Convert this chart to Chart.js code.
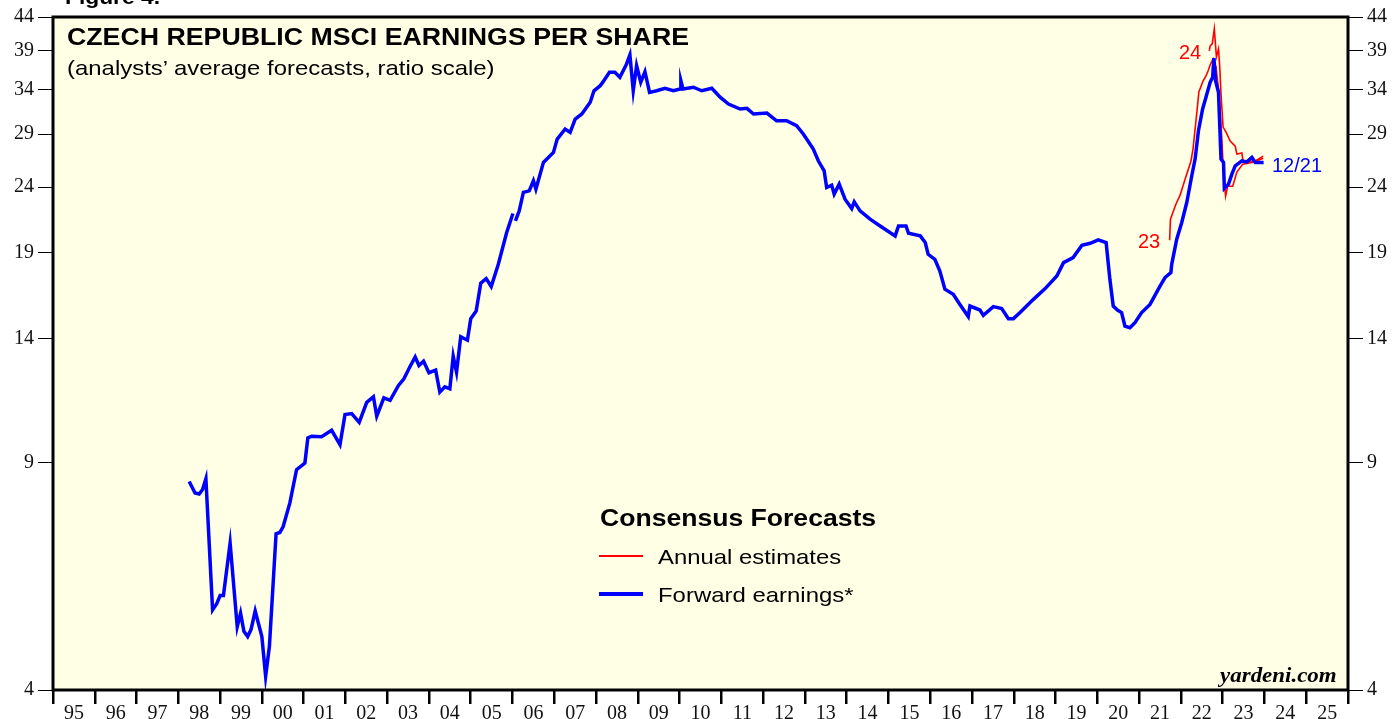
<!DOCTYPE html>
<html>
<head>
<meta charset="utf-8">
<script src="https://cdn.jsdelivr.net/npm/chart.js@4.4.1/dist/chart.umd.min.js"></script>
<style>
  html, body { margin: 0; padding: 0; background: #fff; overflow: hidden; }
  #wrap { position: relative; width: 1393px; height: 719px; }
  canvas { position: absolute; left: 0; top: 0; }
  .t { position: absolute; white-space: nowrap; line-height: 1; font-family: "Liberation Sans", Arial, sans-serif; color: #000; transform-origin: left top; }
  .sw { position: absolute; height: 0; }
</style>
</head>
<body>
<div id="wrap">
  <canvas id="epsChart" width="1393" height="719"></canvas>
  <div class="t" style="left:65px; top:-13px; font-size:20px; font-weight:bold; transform:scaleX(1.14);">Figure 4.</div>
  <div class="t" style="left:67px; top:26px; font-size:23.5px; font-weight:bold; transform:scaleX(1.137);">CZECH REPUBLIC MSCI EARNINGS PER SHARE</div>
  <div class="t" style="left:67px; top:57px; font-size:21px; transform:scaleX(1.14);">(analysts’ average forecasts, ratio scale)</div>
  <div class="t" style="left:600px; top:507px; font-size:23px; font-weight:bold; transform:scaleX(1.155);">Consensus Forecasts</div>
  <div class="sw" style="left:599px; top:555px; width:44px; border-top:2px solid #ff0000;"></div>
  <div class="t" style="left:658px; top:546px; font-size:21px; transform:scaleX(1.137);">Annual estimates</div>
  <div class="sw" style="left:599px; top:592px; width:44px; border-top:4px solid #0000ff;"></div>
  <div class="t" style="left:658px; top:584px; font-size:21px; transform:scaleX(1.14);">Forward earnings*</div>
  <div class="t" style="left:1179px; top:42px; font-size:20px; color:#ff0000;">24</div>
  <div class="t" style="left:1138px; top:231px; font-size:20px; color:#ff0000;">23</div>
  <div class="t" style="left:1272px; top:155px; font-size:20px; color:#0000ff;">12/21</div>
  <div class="t" style="right:56px; top:665px; font-size:20px; font-weight:bold; font-style:italic; font-family:'Liberation Serif','Times New Roman',serif; transform-origin:right top; transform:scaleX(1.147);">yardeni.com</div>
</div>
<script>
// ratio scale ticks and year range
const yTicks = [4, 9, 14, 19, 24, 29, 34, 39, 44];
const firstYear = 1995;
const lastYear = 2026;

// forward earnings (blue), null = gap in the series
const fwdYears = [
  1998.26, 1998.40, 1998.50, 1998.58, 1998.66, 1998.82, 1998.92, 1999.00, 1999.08, 1999.24,
  1999.41, 1999.49, 1999.57, 1999.66, 1999.74, 1999.84, 2000.00, 2000.09, 2000.18, 2000.34,
  2000.43, 2000.51, 2000.67, 2000.83, 2001.03, 2001.10, 2001.19, 2001.43, 2001.67, 2001.87,
  2001.99, 2002.15, 2002.33, 2002.51, 2002.67, 2002.75, 2002.92, 2003.07, 2003.27, 2003.40,
  2003.55, 2003.67, 2003.76, 2003.87, 2004.00, 2004.16, 2004.26, 2004.38, 2004.50, 2004.58,
  2004.66, 2004.76, 2004.92, 2005.00, 2005.13, 2005.24, 2005.37, 2005.49, 2005.66, 2005.86,
  2006.01, 2006.04, 2006.07, 2006.16, 2006.26, 2006.40, 2006.50, 2006.56, 2006.74, 2006.98,
  2007.07, 2007.26, 2007.38, 2007.50, 2007.66, 2007.86, 2007.95, 2008.10, 2008.17, 2008.32,
  2008.45, 2008.57, 2008.73, 2008.81, 2008.89, 2008.97, 2009.07, 2009.17, 2009.28, 2009.45,
  2009.65, 2009.85, 2010.01, 2010.03, 2010.08, 2010.33, 2010.53, 2010.77, 2010.97, 2011.17,
  2011.45, 2011.61, 2011.77, 2012.09, 2012.32, 2012.56, 2012.80, 2012.96, 2013.04, 2013.20,
  2013.32, 2013.46, 2013.52, 2013.64, 2013.70, 2013.82, 2013.96, 2014.12, 2014.18, 2014.32,
  2014.56, 2014.80, 2015.16, 2015.24, 2015.42, 2015.48, 2015.76, 2015.88, 2015.95, 2016.11,
  2016.23, 2016.35, 2016.55, 2016.71, 2016.91, 2016.95, 2017.19, 2017.27, 2017.51, 2017.71,
  2017.87, 2017.99, 2018.15, 2018.47, 2018.75, 2019.03, 2019.19, 2019.42, 2019.63, 2019.83,
  2020.02, 2020.21, 2020.30, 2020.38, 2020.48, 2020.58, 2020.66, 2020.78, 2020.90, 2021.06,
  2021.26, 2021.50, 2021.62, 2021.76, 2021.78, 2021.90, 2022.02, 2022.14, 2022.26, 2022.34,
  2022.42, 2022.52, 2022.60, 2022.70, 2022.76, 2022.79, 2022.83, 2022.90, 2022.96, 2023.02,
  2023.04, 2023.14, 2023.22, 2023.30, 2023.46, 2023.58, 2023.70, 2023.78, 2023.98
];
const fwdValues = [
  8.41, 8.07, 8.04, 8.17, 8.49, 5.32, 5.44, 5.60, 5.60, 6.75,
  5.01, 5.26, 4.93, 4.84, 4.96, 5.30, 4.84, 4.20, 4.67, 6.98,
  7.01, 7.16, 7.79, 8.77, 8.98, 9.82, 9.88, 9.86, 10.09, 9.59,
  10.67, 10.71, 10.38, 11.15, 11.37, 10.61, 11.33, 11.23, 11.84, 12.12,
  12.68, 13.10, 12.71, 12.91, 12.39, 12.50, 11.56, 11.78, 11.70, 13.14,
  12.41, 14.08, 13.91, 15.02, 15.43, 17.04, 17.32, 16.84, 18.23, 20.42,
  21.85, null, 21.28, 22.05, 23.55, 23.68, 24.55, 23.83, 26.21, 27.16,
  28.48, 29.52, 29.17, 30.59, 31.14, 32.47, 33.83, 34.45, 34.95, 36.14,
  36.14, 35.50, 37.22, 38.44, 33.83, 37.00, 34.87, 36.21, 33.64, 33.83,
  34.13, 33.83, 34.05, 35.07, 34.05, 34.26, 33.83, 34.13, 33.06, 32.27,
  31.70, 31.78, 31.14, 31.25, 30.40, 30.40, 29.87, 29.00, 28.48, 27.48,
  26.36, 25.44, 23.97, 24.17, 23.41, 24.26, 22.99, 22.24, 22.77, 22.05,
  21.41, 20.90, 20.17, 20.90, 20.90, 20.36, 20.17, 19.70, 18.89, 18.56,
  17.80, 16.68, 16.38, 15.80, 15.13, 15.71, 15.49, 15.20, 15.68, 15.57,
  15.02, 15.02, 15.35, 16.09, 16.72, 17.49, 18.34, 18.67, 19.51, 19.65,
  19.89, 19.70, 17.28, 15.71, 15.49, 15.35, 14.63, 14.54, 14.81, 15.35,
  15.80, 16.87, 17.39, 17.70, 18.23, 19.93, 21.16, 22.72, 24.99, 26.52,
  29.34, 31.70, 33.06, 34.87, 35.50, 37.99, 35.07, 33.64, 26.52, 26.21,
  23.89, 24.26, 25.14, 25.89, 26.36, 26.26, 26.68, 26.21, 26.21
];

// annual estimates for 2023 (red)
const est23Years = [
  2021.73, 2021.75, 2021.88, 2021.98, 2022.10, 2022.24, 2022.29, 2022.34, 2022.39, 2022.43,
  2022.53, 2022.60, 2022.65, 2022.70, 2022.77, 2022.84, 2022.91, 2022.98, 2023.02, 2023.07,
  2023.12, 2023.24, 2023.34, 2023.48, 2023.73, 2023.97
];
const est23Values = [
  19.86, 21.41, 22.58, 23.32, 24.69, 26.32, 27.48, 29.52, 31.70, 33.68,
  35.03, 35.66, 36.30, 37.09, 37.90, 36.83, 33.45, 28.48, 25.14, 23.24,
  24.08, 24.08, 25.32, 26.05, 26.23, 26.61
];

// annual estimates for 2024 (red)
const est24Years = [
  2022.68, 2022.70, 2022.75, 2022.80, 2022.85, 2022.90, 2022.93, 2022.96, 2023.01, 2023.08,
  2023.18, 2023.30, 2023.34, 2023.46, 2023.49, 2023.77, 2023.97
];
const est24Values = [
  38.99, 39.69, 39.98, 42.18, 38.16, 39.26, 36.83, 33.45, 29.73, 29.20,
  28.28, 27.78, 27.00, 27.10, 26.23, 26.32, 26.80
];

const toPoints = (xs, ys) => xs.map((x, i) => ({ x: x, y: ys[i] }));

// plot frame + pale background
const framePlugin = {
  id: 'frame',
  beforeDraw(chart) {
    const a = chart.chartArea;
    const c = chart.ctx;
    c.save();
    c.fillStyle = '#ffffe6';
    c.fillRect(a.left, a.top, a.right - a.left, a.bottom - a.top);
    c.restore();
  },
  afterDraw(chart) {
    const a = chart.chartArea;
    const c = chart.ctx;
    c.save();
    c.strokeStyle = '#000';
    c.lineWidth = 3;
    c.strokeRect(a.left, a.top, a.right - a.left, a.bottom - a.top);
    c.restore();
  }
};

const tickFont = { family: "'Liberation Serif', 'Times New Roman', serif", size: 20 };

function yAxis(pos, w) {
  return {
    type: 'logarithmic',
    position: pos,
    min: 4,
    max: 44,
    afterBuildTicks: s => { s.ticks = yTicks.map(v => ({ value: v })); },
    afterFit: s => { s.width = w; },
    grid: { drawOnChartArea: false, drawTicks: true, tickLength: 15, color: '#000', lineWidth: 1 },
    border: { display: false },
    ticks: { color: '#111', font: tickFont, padding: 4, callback: v => String(v), autoSkip: false }
  };
}

const ctx = document.getElementById('epsChart').getContext('2d');
const chart = new Chart(ctx, {
  type: 'line',
  data: {
    datasets: [{
      label: 'Forward earnings*',
      data: toPoints(fwdYears, fwdValues),
      borderColor: '#0000ff',
      borderWidth: 3.5,
      pointRadius: 0,
      spanGaps: false,
      yAxisID: 'y'
    }, {
      label: '23',
      data: toPoints(est23Years, est23Values),
      borderColor: '#ff0000',
      borderWidth: 1.6,
      pointRadius: 0,
      yAxisID: 'y'
    }, {
      label: '24',
      data: toPoints(est24Years, est24Values),
      borderColor: '#ff0000',
      borderWidth: 1.6,
      pointRadius: 0,
      yAxisID: 'y'
    }]
  },
  options: {
    responsive: false,
    animation: false,
    devicePixelRatio: 1,
    layout: { padding: { top: 17, left: 0, right: 0, bottom: 0 } },
    plugins: { legend: { display: false }, tooltip: { enabled: false }, title: { display: false } },
    scales: {
      x: {
        type: 'linear',
        min: firstYear,
        max: lastYear,
        afterBuildTicks: s => {
          const t = [];
          for (let yr = firstYear; yr <= lastYear; yr++) t.push({ value: yr });
          s.ticks = t;
        },
        afterFit: s => { s.height = 29; },
        grid: { drawOnChartArea: false, drawTicks: true, tickLength: 14, color: '#000', lineWidth: 2.5 },
        border: { display: false },
        ticks: {
          color: '#111',
          font: tickFont,
          padding: -2,
          autoSkip: false,
          maxRotation: 0,
          labelOffset: 20.9,
          callback: v => (v < lastYear ? String(v).slice(2) : '')
        }
      },
      y: yAxis('left', 53),
      y2: yAxis('right', 45)
    }
  },
  plugins: [framePlugin]
});
</script>
</body>
</html>
